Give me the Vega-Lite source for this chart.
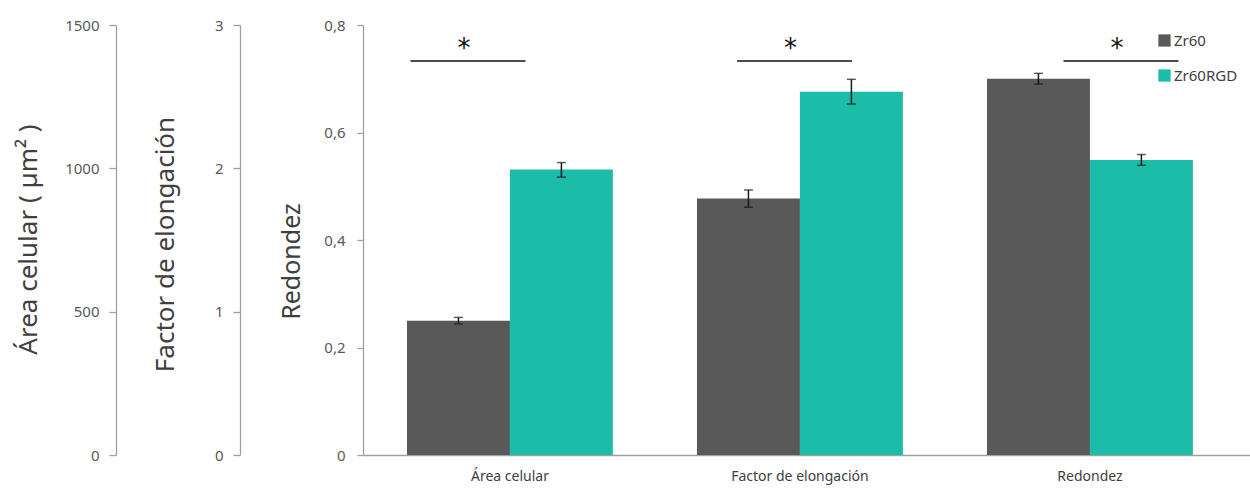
{
  "$schema": "https://vega.github.io/schema/vega-lite/v6.json",
  "width": 887,
  "height": 430,
  "autosize": "none",
  "padding": {"left": 363, "top": 25, "right": 0, "bottom": 37},
  "background": "white",
  "config": {
    "view": {"stroke": null},
    "font": "Noto Sans",
    "axis": {
      "grid": false,
      "domainColor": "#a0a0a0",
      "domainWidth": 1.3,
      "tickColor": "#a0a0a0",
      "tickWidth": 1.3,
      "tickSize": 7,
      "labelColor": "#595959",
      "labelFontSize": 15,
      "labelPadding": 10,
      "titleColor": "#404040",
      "titleFontSize": 26,
      "titleFontWeight": "normal",
      "titleBaseline": "middle"
    },
    "legend": {
      "orient": "none",
      "legendX": 794,
      "legendY": 8,
      "symbolType": "square",
      "symbolSize": 150,
      "symbolStrokeWidth": 0,
      "labelFontSize": 15,
      "labelColor": "#404040",
      "labelOffset": 2,
      "rowPadding": 19,
      "title": null
    }
  },
  "datasets": {
    "bars": [
      {"group": "Área celular", "series": "Zr60", "value": 0.250, "lo": 0.244, "hi": 0.256},
      {"group": "Área celular", "series": "Zr60RGD", "value": 0.531, "lo": 0.517, "hi": 0.544},
      {"group": "Factor de elongación", "series": "Zr60", "value": 0.477, "lo": 0.461, "hi": 0.493},
      {"group": "Factor de elongación", "series": "Zr60RGD", "value": 0.676, "lo": 0.653, "hi": 0.699},
      {"group": "Redondez", "series": "Zr60", "value": 0.700, "lo": 0.690, "hi": 0.710},
      {"group": "Redondez", "series": "Zr60RGD", "value": 0.549, "lo": 0.539, "hi": 0.559}
    ],
    "sig": [
      {"group": "Área celular", "label": "*"},
      {"group": "Factor de elongación", "label": "*"},
      {"group": "Redondez", "label": "*"}
    ],
    "axisA": [{"v": 0}],
    "axisF": [{"v": 0}]
  },
  "layer": [
    {
      "data": {"name": "axisA"},
      "mark": {"type": "point", "opacity": 0},
      "encoding": {
        "y": {
          "field": "v", "type": "quantitative",
          "scale": {"domain": [0, 1500], "nice": false, "zero": true},
          "axis": {
            "orient": "left", "offset": 247, "values": [0, 500, 1000, 1500], "format": "d",
            "title": "Área celular ( µm² )", "titleX": -88, "titleY": 214
          }
        }
      }
    },
    {
      "data": {"name": "axisF"},
      "mark": {"type": "point", "opacity": 0},
      "encoding": {
        "y": {
          "field": "v", "type": "quantitative",
          "scale": {"domain": [0, 3], "nice": false, "zero": true},
          "axis": {
            "orient": "left", "offset": 123, "values": [0, 1, 2, 3], "format": "d",
            "title": "Factor de elongación", "titleX": -75, "titleY": 219
          }
        }
      }
    },
    {
      "data": {"name": "bars"},
      "encoding": {
        "x": {
          "field": "group", "type": "nominal",
          "sort": ["Área celular", "Factor de elongación", "Redondez"],
          "scale": {"paddingInner": 0.29, "paddingOuter": 0.1743, "align": 0.435},
          "axis": {
            "orient": "bottom", "title": null, "ticks": false, "labelAngle": 0,
            "labelFontSize": 14, "labelColor": "#404040", "labelPadding": 14
          }
        }
      },
      "layer": [
        {
          "mark": {"type": "bar"},
          "encoding": {
            "xOffset": {"field": "series", "type": "nominal", "sort": ["Zr60", "Zr60RGD"]},
            "y": {
              "field": "value", "type": "quantitative",
              "scale": {"domain": [0, 0.8], "nice": false},
              "axis": {
                "orient": "left", "values": [0, 0.2, 0.4, 0.6, 0.8],
                "labelExpr": "datum.value == 0 ? '0' : replace(format(datum.value, '.1f'), '.', ',')",
                "tickSize": 6, "labelPadding": 12,
                "title": "Redondez", "titleX": -72, "titleY": 236, "titleFontSize": 25
              }
            },
            "color": {
              "field": "series", "type": "nominal",
              "scale": {"domain": ["Zr60", "Zr60RGD"], "range": ["#595959", "#1bbca8"]}
            }
          }
        },
        {
          "mark": {"type": "rule", "color": "#1a1a1a", "strokeWidth": 1.5},
          "encoding": {
            "xOffset": {"field": "series", "type": "nominal", "sort": ["Zr60", "Zr60RGD"]},
            "y": {"field": "lo", "type": "quantitative"},
            "y2": {"field": "hi"}
          }
        },
        {
          "mark": {"type": "tick", "color": "#1a1a1a", "thickness": 1.5, "size": 9},
          "encoding": {
            "xOffset": {"field": "series", "type": "nominal", "sort": ["Zr60", "Zr60RGD"]},
            "y": {"field": "lo", "type": "quantitative"}
          }
        },
        {
          "mark": {"type": "tick", "color": "#1a1a1a", "thickness": 1.5, "size": 9},
          "encoding": {
            "xOffset": {"field": "series", "type": "nominal", "sort": ["Zr60", "Zr60RGD"]},
            "y": {"field": "hi", "type": "quantitative"}
          }
        },
        {
          "data": {"name": "sig"},
          "mark": {"type": "tick", "color": "#000000", "thickness": 2, "size": 115},
          "encoding": {
            "xOffset": {
              "field": "group", "type": "nominal",
              "sort": ["Área celular", "Factor de elongación", "Redondez"],
              "scale": {"type": "point", "range": [61, 134], "padding": 0}
            },
            "y": {"datum": 0.733}
          }
        },
        {
          "data": {"name": "sig"},
          "mark": {"type": "text", "color": "#111111", "fontSize": 26, "dx": -4, "dy": 5, "baseline": "middle", "font": "DejaVu Sans"},
          "encoding": {
            "xOffset": {
              "field": "group", "type": "nominal",
              "sort": ["Área celular", "Factor de elongación", "Redondez"],
              "scale": {"type": "point", "range": [61, 134], "padding": 0}
            },
            "y": {"datum": 0.765},
            "text": {"field": "label"}
          }
        }
      ],
      "resolve": {"scale": {"xOffset": "independent"}}
    }
  ],
  "resolve": {"scale": {"y": "independent"}}
}
